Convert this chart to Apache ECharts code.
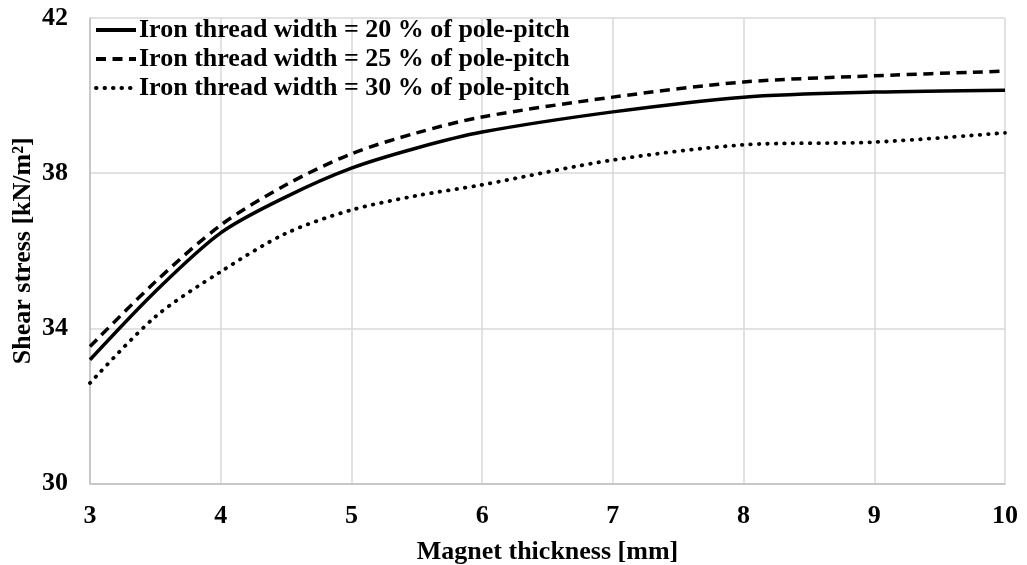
<!DOCTYPE html>
<html>
<head>
<meta charset="utf-8">
<script src="https://cdn.jsdelivr.net/npm/echarts@6/dist/echarts.min.js"></script>
<style>
  html, body { margin: 0; padding: 0; background: #fff; }
  #chart { width: 1027px; height: 565px; }
</style>
</head>
<body>
<div id="chart"></div>
<script>
// Magnet thickness [mm]
const thickness = [3, 3.5, 4, 4.5, 5, 5.5, 6, 7, 8, 9, 10];

// Shear stress [kN/m²] for each iron thread width
const stress20 = [33.19, 34.95, 36.46, 37.39, 38.13, 38.65, 39.06, 39.58, 39.96, 40.09, 40.14];
const stress25 = [33.53, 35.20, 36.66, 37.70, 38.50, 39.04, 39.45, 39.96, 40.35, 40.51, 40.63];
const stress30 = [32.59, 34.30, 35.46, 36.45, 37.05, 37.42, 37.70, 38.34, 38.73, 38.80, 39.04];

const seriesNames = [
  'Iron thread width = 20 % of pole-pitch',
  'Iron thread width = 25 % of pole-pitch',
  'Iron thread width = 30 % of pole-pitch'
];

const FONT = '"Liberation Serif", "Times New Roman", serif';
const TEXT = { fontFamily: FONT, fontWeight: 'bold', fontSize: 26, color: '#000' };

function pairs(ys) {
  return thickness.map((x, i) => [x, ys[i]]);
}

const chart = echarts.init(document.getElementById('chart'), null, { renderer: 'canvas' });

const lineBase = {
  type: 'line',
  smooth: 0.3,
  showSymbol: false,
  symbol: 'none',
  animation: false
};

chart.setOption({
  backgroundColor: '#ffffff',
  animation: false,
  grid: { left: 90, right: 22, top: 18, bottom: 81.5, containLabel: false, outerBoundsMode: 'none' },
  legend: {
    left: 94,
    top: 17,
    padding: 0,
    orient: 'vertical',
    itemWidth: 40,
    itemHeight: 22,
    itemGap: 3,
    itemStyle: { opacity: 0 },
    lineStyle: { width: 4 },
    textStyle: Object.assign({}, TEXT, { lineHeight: 26, padding: [0, 0, 0, -2] }),
    data: seriesNames
  },
  xAxis: {
    type: 'value',
    min: 3,
    max: 10,
    interval: 1,
    name: 'Magnet thickness [mm]',
    nameLocation: 'middle',
    nameGap: 56,
    nameMoveOverlap: false,
    nameTextStyle: TEXT,
    axisLine: { show: true, lineStyle: { color: '#bfbfbf', width: 1.5 } },
    axisTick: { show: false },
    axisLabel: Object.assign({}, TEXT, { margin: 20 }),
    splitLine: { show: true, lineStyle: { color: '#d9d9d9', width: 1.5 } }
  },
  yAxis: {
    type: 'value',
    min: 30,
    max: 42,
    interval: 4,
    name: 'Shear stress [kN/m²]',
    nameLocation: 'middle',
    nameGap: 54,
    nameMoveOverlap: false,
    nameTextStyle: TEXT,
    axisLine: { show: true, lineStyle: { color: '#bfbfbf', width: 1.5 } },
    axisTick: { show: false },
    axisLabel: Object.assign({}, TEXT, { margin: 22 }),
    splitLine: { show: true, lineStyle: { color: '#d9d9d9', width: 1.5 } }
  },
  series: [
    Object.assign({}, lineBase, {
      name: seriesNames[0],
      data: pairs(stress20),
      itemStyle: { color: '#000' },
      lineStyle: { color: '#000', width: 3.5, type: 'solid' }
    }),
    Object.assign({}, lineBase, {
      name: seriesNames[1],
      data: pairs(stress25),
      itemStyle: { color: '#000' },
      lineStyle: { color: '#000', width: 3.5, type: [10, 6.5] }
    }),
    Object.assign({}, lineBase, {
      name: seriesNames[2],
      data: pairs(stress30),
      itemStyle: { color: '#000' },
      lineStyle: { color: '#000', width: 3.8, type: [0.5, 8], cap: 'round' }
    })
  ]
});
</script>
</body>
</html>
